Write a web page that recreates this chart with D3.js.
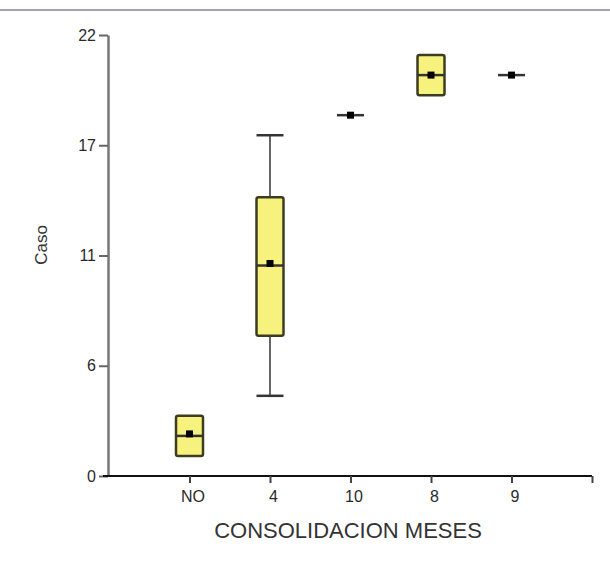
<!DOCTYPE html>
<html><head><meta charset="utf-8">
<script src="https://cdn.jsdelivr.net/npm/d3@7"></script>
<style>body{margin:0;background:#fff}svg{display:block}</style>
</head><body>
<script>
const categories = ["NO","4","10","8","9"];
const mins    = [1, 4, 18, 19, 20];
const q1s     = [1, 7, 18, 19, 20];
const medians = [2, 10.5, 18, 20, 20];
const q3s     = [3, 13.9, 18, 21, 20];
const maxs    = [3, 17, 18, 21, 20];
const means   = [2.1, 10.6, 18, 20, 20];
const yTicks  = [0, 5.5, 11, 16.5, 22];
const yTickLabels = ["0","6","11","17","22"];

const W = 610, H = 561;
const FONT = "Liberation Sans, Arial, sans-serif";
const svg = d3.select("body").append("svg").attr("width", W).attr("height", H);

// top border line
svg.append("line").attr("x1",0).attr("x2",W).attr("y1",10).attr("y2",10)
  .attr("stroke","#a8a0b0").attr("stroke-width",2);

const y = d3.scaleLinear().domain([0,22]).range([476,35]);
const x = d3.scalePoint().domain(["_a", ...categories, "_b"]).range([109,592]);
const axisX0 = 108;

// Y axis
const yAxis = svg.append("g").attr("transform",`translate(${axisX0},0)`)
  .call(d3.axisLeft(y).tickValues(yTicks).tickFormat((d,i)=>yTickLabels[i]).tickSize(9).tickSizeOuter(0));
yAxis.select(".domain").attr("stroke","#777").attr("stroke-width",2.5);
yAxis.selectAll(".tick line").attr("stroke","#666").attr("stroke-width",2);
yAxis.selectAll(".tick text").attr("x",-12)
  .style("font-family",FONT).style("font-size","16px").style("fill","#2a2a2a");

// X axis
const xAxis = svg.append("g").attr("transform",`translate(0,${y(0)})`)
  .call(d3.axisBottom(x).tickValues([...categories,"_b"]).tickFormat(d=>d.startsWith("_")?"":d).tickSize(7).tickSizeOuter(0));
xAxis.select(".domain").attr("d",`M${axisX0-5},0H${x("_b")}`).attr("stroke","#111").attr("stroke-width",2);
xAxis.selectAll(".tick line").attr("stroke","#444").attr("stroke-width",2);
xAxis.selectAll(".tick text").attr("y",15).attr("dx",3)
  .style("font-family",FONT).style("font-size","16px").style("fill","#2a2a2a");

// labels
svg.append("text").attr("x",348).attr("y",538).attr("text-anchor","middle")
  .style("font-family",FONT).style("font-size","22px").style("fill","#333")
  .text("CONSOLIDACION MESES");
svg.append("text").attr("transform","translate(47,245) rotate(-90)").attr("text-anchor","middle")
  .style("font-family",FONT).style("font-size","17px").style("fill","#333")
  .text("Caso");

const bw = 27;
categories.forEach((c,i)=>{
  const cx = x(c);
  const g = svg.append("g");
  if (maxs[i] > q3s[i]) {
    g.append("line").attr("x1",cx).attr("x2",cx).attr("y1",y(q3s[i])).attr("y2",y(maxs[i])).attr("stroke","#666").attr("stroke-width",2);
    g.append("line").attr("x1",cx-bw/2).attr("x2",cx+bw/2).attr("y1",y(maxs[i])).attr("y2",y(maxs[i])).attr("stroke","#333").attr("stroke-width",2.5);
  }
  if (mins[i] < q1s[i]) {
    g.append("line").attr("x1",cx).attr("x2",cx).attr("y1",y(q1s[i])).attr("y2",y(mins[i])).attr("stroke","#666").attr("stroke-width",2);
    g.append("line").attr("x1",cx-bw/2).attr("x2",cx+bw/2).attr("y1",y(mins[i])).attr("y2",y(mins[i])).attr("stroke","#333").attr("stroke-width",2.5);
  }
  if (q3s[i] > q1s[i]) {
    g.append("rect").attr("x",cx-bw/2).attr("width",bw).attr("y",y(q3s[i])).attr("height",y(q1s[i])-y(q3s[i]))
      .attr("rx",2).attr("fill","#f7f27e").attr("stroke","#3c3c22").attr("stroke-width",2.5);
  }
  g.append("line").attr("x1",cx-bw/2).attr("x2",cx+bw/2).attr("y1",y(medians[i])).attr("y2",y(medians[i])).attr("stroke","#333").attr("stroke-width",2.5);
  g.append("rect").attr("x",cx-3.5).attr("y",y(means[i])-3.5).attr("width",7).attr("height",7).attr("fill","#000");
});
</script>
</body></html>
